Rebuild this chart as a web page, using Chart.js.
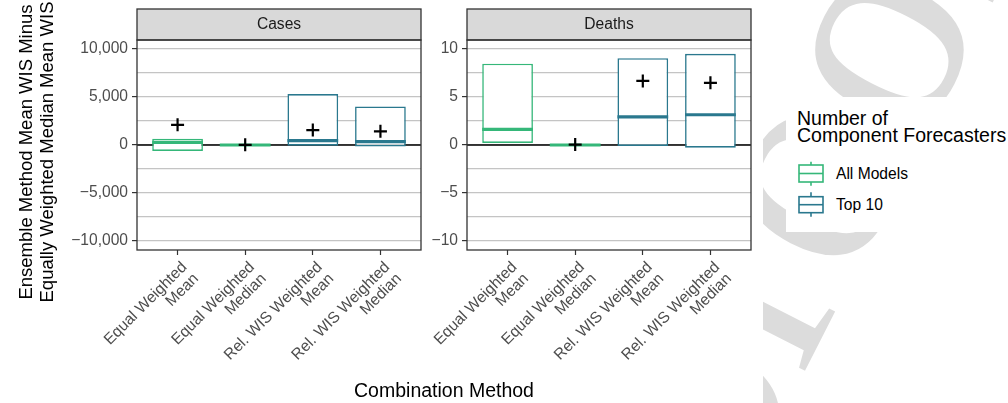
<!DOCTYPE html>
<html lang="en">
<head>
<meta charset="UTF-8">
<title>Ensemble method mean WIS differences</title>
<script src="https://cdn.jsdelivr.net/npm/chart.js"></script>
<style>
  body { margin: 0; background: #fff; font-family: 'Liberation Sans', Arial, sans-serif; }
  #wrap { position: relative; width: 1008px; height: 403px; overflow: hidden; background: #fff; }
  #wrap canvas { position: absolute; left: 0; top: 0; }
  #wm { position: absolute; left: 763px; top: 0; }
  #ytitle { position: absolute; left: -124px; top: 130.5px; width: 320px; height: 42px;
            transform: rotate(-90deg); text-align: center; font-size: 18.5px; line-height: 21px;
            color: #000; white-space: nowrap; }
  #xtitle { position: absolute; left: 0; top: 378px; width: 888px; text-align: center;
            font-size: 19.5px; line-height: 24px; color: #000; }
  #legend { position: absolute; left: 786px; top: 97px; width: 222px; height: 135px; background: #fff; }
  #legend .title { position: absolute; left: 11px; top: 12.5px; font-size: 19.5px; line-height: 17px; color: #000; white-space: nowrap; }
  #legend .item { position: absolute; left: 50px; font-size: 15.6px; line-height: 18px; color: #000; }
  #legend svg { position: absolute; left: 0; top: 0; }
</style>
</head>
<body>
<div id="wrap">
  <svg id="wm" width="245" height="403">
    <text x="-30" y="512" transform="rotate(-63 -30 512)" font-family="Liberation Serif, Times New Roman, serif"
          font-size="305" fill="#DCDCDC">proof</text>
  </svg>
  <canvas id="cases" width="1008" height="403"></canvas>
  <canvas id="deaths" width="1008" height="403"></canvas>
  <div id="ytitle">Ensemble Method Mean WIS Minus<br>Equally Weighted Median Mean WIS</div>
  <div id="xtitle">Combination Method</div>
  <div id="legend">
    <div class="title">Number of<br>Component Forecasters</div>
    <svg width="60" height="135">
      <line x1="25" y1="64.7" x2="25" y2="88.7" stroke="#35B779" stroke-width="1.6"/>
      <rect x="13" y="68" width="24" height="17" fill="#fff" stroke="#35B779" stroke-width="1.6"/>
      <line x1="13" y1="76.5" x2="37" y2="76.5" stroke="#35B779" stroke-width="1.6"/>
      <line x1="25" y1="95.3" x2="25" y2="119.7" stroke="#2A788E" stroke-width="1.6"/>
      <rect x="13" y="99.7" width="24" height="16" fill="#fff" stroke="#2A788E" stroke-width="1.6"/>
      <line x1="13" y1="107.7" x2="37" y2="107.7" stroke="#2A788E" stroke-width="1.6"/>
    </svg>
    <div class="item" style="top:67.5px">All Models</div>
    <div class="item" style="top:99px">Top 10</div>
  </div>
</div>

<script>
// categories on the x axis (same in both panels)
const categories = [
  ['Equal Weighted', 'Mean'],
  ['Equal Weighted', 'Median'],
  ['Rel. WIS Weighted', 'Mean'],
  ['Rel. WIS Weighted', 'Median']
];
// which group each box belongs to
const groups = ['All Models', 'All Models', 'Top 10', 'Top 10'];
const groupColors = { 'All Models': '#35B779', 'Top 10': '#2A788E' };

// Cases panel: box lower/upper quartiles, medians, means
const casesQ1     = [-620, -30, -70, -145];
const casesMedian = [270, 0, 450, 345];
const casesQ3     = [650, 30, 5310, 4020];
const casesMean   = [2100, 20, 1560, 1420];

// Deaths panel
const deathsQ1     = [0.22, -0.05, -0.1, -0.28];
const deathsMedian = [1.62, 0, 2.94, 3.15];
const deathsQ3     = [8.47, 0.05, 9.05, 9.5];
const deathsMean   = [null, 0.04, 6.68, 6.48];

// y axis breaks
const casesMajor  = [-10000, -5000, 0, 5000, 10000];
const casesMinor  = [-7500, -2500, 2500, 7500];
const deathsMajor = [-10, -5, 0, 5, 10];
const deathsMinor = [-7.5, -2.5, 2.5, 7.5];
const casesLimit = 10940;
const deathsLimit = 10.94;

const FONT = "'Liberation Sans', Arial, sans-serif";
Chart.defaults.font.family = FONT;

function fmt(v) {
  const s = Math.abs(v).toLocaleString('en-US');
  return v < 0 ? '\u2212' + s : s;
}

// zero line under the boxes, panel border and facet strip on top
const facet = {
  id: 'facet',
  beforeDatasetsDraw(chart) {
    const { ctx, chartArea: a } = chart;
    const y0 = chart.scales.y.getPixelForValue(0);
    ctx.save();
    ctx.strokeStyle = '#000';
    ctx.lineWidth = 1.6;
    ctx.beginPath();
    ctx.moveTo(a.left, y0);
    ctx.lineTo(a.right, y0);
    ctx.stroke();
    ctx.restore();
  },
  afterDraw(chart, args, opts) {
    const { ctx, chartArea: a } = chart;
    ctx.save();
    ctx.fillStyle = '#D9D9D9';
    ctx.fillRect(a.left, 9, a.width, a.top - 9);
    ctx.strokeStyle = '#333';
    ctx.lineWidth = 1.3;
    ctx.strokeRect(a.left, 9, a.width, a.top - 9);
    ctx.strokeRect(a.left, a.top, a.width, a.height);
    ctx.fillStyle = '#1A1A1A';
    ctx.font = '15.6px ' + FONT;
    ctx.textAlign = 'center';
    ctx.textBaseline = 'middle';
    ctx.fillText(opts.label, (a.left + a.right) / 2, (9 + a.top) / 2 + 0.5);
    ctx.restore();
  }
};

function makePanel(id, label, q1, med, q3, mean, major, minor, limit, axisWidth, rightPad) {
  const colors = groups.map(g => groupColors[g]);
  const allTicks = major.concat(minor).sort((a, b) => a - b);
  return new Chart(document.getElementById(id), {
    type: 'bar',
    data: {
      datasets: [
        {
          type: 'scatter', order: 0,
          data: mean.map((m, i) => ({ x: i + 1, y: m })),
          pointStyle: 'cross', pointRadius: 6.5,
          pointBorderColor: '#000', pointBorderWidth: 2.2
        },
        {
          type: 'scatter', order: 1,
          data: med.map((m, i) => ({ x: i + 1, y: m })),
          pointStyle: 'line', pointRadius: 25.4,
          pointBorderColor: colors, pointBorderWidth: 3.2
        },
        {
          type: 'bar', order: 2,
          data: q1.map((v, i) => ({ x: i + 1, y: [v, q3[i]] })),
          backgroundColor: '#fff',
          borderColor: colors,
          borderWidth: 1.6,
          borderSkipped: false,
          barPercentage: 0.75,
          categoryPercentage: 1
        }
      ]
    },
    options: {
      responsive: false,
      animation: false,
      layout: { padding: { left: 0, top: 40, right: rightPad, bottom: 0 } },
      plugins: {
        legend: { display: false },
        tooltip: { enabled: false },
        facet: { label: label }
      },
      scales: {
        x: {
          type: 'linear', min: 0.4, max: 4.6, offset: false,
          afterBuildTicks: s => { s.ticks = categories.map((c, i) => ({ value: i + 1 })); },
          afterFit: s => { s.height = 153; },
          grid: { offset: false, drawOnChartArea: false, color: 'rgba(0,0,0,0)', tickLength: 5, tickColor: '#333', tickWidth: 1.2 },
          border: { display: false },
          ticks: {
            autoSkip: false, minRotation: 45, maxRotation: 45,
            padding: 4, labelOffset: 7,
            color: '#4D4D4D', font: { size: 15.6, lineHeight: 1.05 },
            callback: v => categories[v - 1]
          }
        },
        y: {
          min: -limit, max: limit,
          afterBuildTicks: s => { s.ticks = allTicks.map(v => ({ value: v })); },
          afterFit: s => { s.width = axisWidth; },
          grid: {
            color: '#C4C4C4', lineWidth: 1.2, tickLength: 5, tickWidth: 1.2,
            tickColor: c => major.includes(c.tick.value) ? '#333' : 'rgba(0,0,0,0)'
          },
          border: { display: false },
          ticks: {
            autoSkip: false, padding: 4,
            color: '#4D4D4D', font: { size: 15.6 },
            callback: v => major.includes(v) ? fmt(v) : ''
          }
        }
      }
    },
    plugins: [facet]
  });
}

makePanel('cases', 'Cases', casesQ1, casesMedian, casesQ3, casesMean,
          casesMajor, casesMinor, casesLimit, 137, 587);
makePanel('deaths', 'Deaths', deathsQ1, deathsMedian, deathsQ3, deathsMean,
          deathsMajor, deathsMinor, deathsLimit, 467, 257);
</script>
</body>
</html>
